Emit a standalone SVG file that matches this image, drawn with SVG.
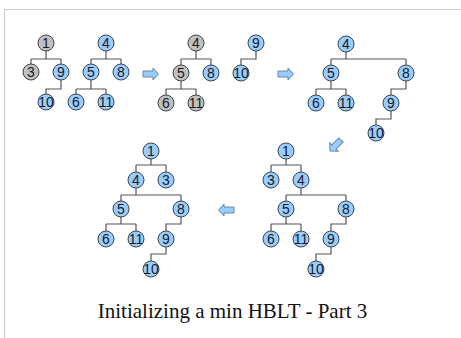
<svg xmlns="http://www.w3.org/2000/svg" xmlns:xlink="http://www.w3.org/1999/xlink" width="461" height="338" viewBox="0 0 461 338">
<style>
.b circle{fill:#99ccff;stroke:#3c4650;stroke-width:1}
.g circle{fill:#c0c0c0;stroke:#3c4650;stroke-width:1}
.b text,.g text{font-family:"Liberation Sans",Arial,sans-serif;font-size:14px;fill:#1a1a1a;text-anchor:middle}
#connectors path{fill:none;stroke:#555;stroke-width:1.2}
.arrow{fill:#99ccff;stroke:#6a86a6;stroke-width:1}
.frame{stroke:#cccccc;stroke-width:1.2;fill:none}
</style>
<defs>
<path id="arr" d="M0,-3 H10 V-6 L15.5,0 L10,6 V3 H0 Z"/>
</defs>
<rect width="461" height="338" fill="#fff"/>
<path class="frame" d="M4.5,338 V9.5 H461"/>

<g id="connectors">
<!-- panel 1 -->
<path d="M46,51 V59 M31,59 H61 M31,59 V64 M61,59 V64"/>
<path d="M61,80 V89 H46 V94"/>
<path d="M106,51 V59 M91,59 H121 M91,59 V64 M121,59 V64"/>
<path d="M91,80 V89 M76,89 H106 M76,89 V94 M106,89 V94"/>
<!-- panel 2 -->
<path d="M196,51 V59 M181,59 H211 M181,59 V65 M211,59 V65"/>
<path d="M181,81 V89 M166,89 H196 M166,89 V95 M196,89 V95"/>
<path d="M256,51 V59 H241 V65"/>
<!-- panel 3 -->
<path d="M346,52 V59 M331,59 H406 M331,59 V65 M406,59 V65"/>
<path d="M331,81 V89 M316,89 H346 M316,89 V95 M346,89 V95"/>
<path d="M406,81 V89 H391 V95"/>
<path d="M391,111 V119 H376 V125"/>
<!-- panel 4 (bottom right) -->
<path d="M286,159 V165 M271,165 H301 M271,165 V172 M301,165 V172"/>
<path d="M301,188 V195 M286,195 H346 M286,195 V201 M346,195 V201"/>
<path d="M286,217 V224 M271,224 H301 M271,224 V231 M301,224 V231"/>
<path d="M346,217 V224 H331 V231"/>
<path d="M331,247 V254 H316 V261"/>
<!-- panel 5 (bottom left) -->
<path d="M151,159 V165 M136,165 H166 M136,165 V172 M166,165 V172"/>
<path d="M136,188 V195 M121,195 H181 M121,195 V201 M181,195 V201"/>
<path d="M121,217 V224 M106,224 H136 M106,224 V231 M136,224 V231"/>
<path d="M181,217 V224 H166 V231"/>
<path d="M166,247 V254 H151 V261"/>
</g>

<!-- panel 1 -->
<g id="p1-n1" class="g"><circle cx="46" cy="43" r="8"/><text x="46" y="48">1</text></g>
<g id="p1-n3" class="g"><circle cx="31" cy="72" r="8"/><text x="31" y="77">3</text></g>
<g id="p1-n9" class="b"><circle cx="61" cy="72" r="8"/><text x="61" y="77">9</text></g>
<g id="p1-n10" class="b"><circle cx="46" cy="102" r="8"/><text x="46" y="107">10</text></g>
<g id="p1-n4" class="b"><circle cx="106" cy="43" r="8"/><text x="106" y="48">4</text></g>
<g id="p1-n5" class="b"><circle cx="91" cy="72" r="8"/><text x="91" y="77">5</text></g>
<g id="p1-n8" class="b"><circle cx="121" cy="72" r="8"/><text x="121" y="77">8</text></g>
<g id="p1-n6" class="b"><circle cx="76" cy="102" r="8"/><text x="76" y="107">6</text></g>
<g id="p1-n11" class="b"><circle cx="106" cy="102" r="8"/><text x="106" y="107">11</text></g>

<!-- panel 2 -->
<g id="p2-n4" class="g"><circle cx="196" cy="43" r="8"/><text x="196" y="48">4</text></g>
<g id="p2-n5" class="g"><circle cx="181" cy="73" r="8"/><text x="181" y="78">5</text></g>
<g id="p2-n8" class="b"><circle cx="211" cy="73" r="8"/><text x="211" y="78">8</text></g>
<g id="p2-n6" class="g"><circle cx="166" cy="103" r="8"/><text x="166" y="108">6</text></g>
<g id="p2-n11" class="g"><circle cx="196" cy="103" r="8"/><text x="196" y="108">11</text></g>
<g id="p2-n9" class="b"><circle cx="256" cy="43" r="8"/><text x="256" y="48">9</text></g>
<g id="p2-n10" class="b"><circle cx="241" cy="73" r="8"/><text x="241" y="78">10</text></g>

<!-- panel 3 -->
<g id="p3-n4" class="b"><circle cx="346" cy="44" r="8"/><text x="346" y="49">4</text></g>
<g id="p3-n5" class="b"><circle cx="331" cy="73" r="8"/><text x="331" y="78">5</text></g>
<g id="p3-n8" class="b"><circle cx="406" cy="73" r="8"/><text x="406" y="78">8</text></g>
<g id="p3-n6" class="b"><circle cx="316" cy="103" r="8"/><text x="316" y="108">6</text></g>
<g id="p3-n11" class="b"><circle cx="346" cy="103" r="8"/><text x="346" y="108">11</text></g>
<g id="p3-n9" class="b"><circle cx="391" cy="103" r="8"/><text x="391" y="108">9</text></g>
<g id="p3-n10" class="b"><circle cx="376" cy="133" r="8"/><text x="376" y="138">10</text></g>

<!-- panel 4 (bottom right) -->
<g id="p4-n1" class="b"><circle cx="286" cy="151" r="8"/><text x="286" y="156">1</text></g>
<g id="p4-n3" class="b"><circle cx="271" cy="180" r="8"/><text x="271" y="185">3</text></g>
<g id="p4-n4" class="b"><circle cx="301" cy="180" r="8"/><text x="301" y="185">4</text></g>
<g id="p4-n5" class="b"><circle cx="286" cy="209" r="8"/><text x="286" y="214">5</text></g>
<g id="p4-n8" class="b"><circle cx="346" cy="209" r="8"/><text x="346" y="214">8</text></g>
<g id="p4-n6" class="b"><circle cx="271" cy="239" r="8"/><text x="271" y="244">6</text></g>
<g id="p4-n11" class="b"><circle cx="301" cy="239" r="8"/><text x="301" y="244">11</text></g>
<g id="p4-n9" class="b"><circle cx="331" cy="239" r="8"/><text x="331" y="244">9</text></g>
<g id="p4-n10" class="b"><circle cx="316" cy="269" r="8"/><text x="316" y="274">10</text></g>

<!-- panel 5 (bottom left) -->
<g id="p5-n1" class="b"><circle cx="151" cy="151" r="8"/><text x="151" y="156">1</text></g>
<g id="p5-n4" class="b"><circle cx="136" cy="180" r="8"/><text x="136" y="185">4</text></g>
<g id="p5-n3" class="b"><circle cx="166" cy="180" r="8"/><text x="166" y="185">3</text></g>
<g id="p5-n5" class="b"><circle cx="121" cy="209" r="8"/><text x="121" y="214">5</text></g>
<g id="p5-n8" class="b"><circle cx="181" cy="209" r="8"/><text x="181" y="214">8</text></g>
<g id="p5-n6" class="b"><circle cx="106" cy="239" r="8"/><text x="106" y="244">6</text></g>
<g id="p5-n11" class="b"><circle cx="136" cy="239" r="8"/><text x="136" y="244">11</text></g>
<g id="p5-n9" class="b"><circle cx="166" cy="239" r="8"/><text x="166" y="244">9</text></g>
<g id="p5-n10" class="b"><circle cx="151" cy="269" r="8"/><text x="151" y="274">10</text></g>

<!-- step arrows -->
<g id="arrows">
<use xlink:href="#arr" class="arrow" transform="translate(143,74)"/>
<use xlink:href="#arr" class="arrow" transform="translate(278,74)"/>
<use xlink:href="#arr" class="arrow" transform="translate(341,140) rotate(135)"/>
<use xlink:href="#arr" class="arrow" transform="translate(234,210) rotate(180)"/>
</g>

<text id="caption" x="232.5" y="318" font-family="'Liberation Serif','Times New Roman',serif" font-size="21" fill="#111" text-anchor="middle">Initializing a min HBLT - Part 3</text>
</svg>
